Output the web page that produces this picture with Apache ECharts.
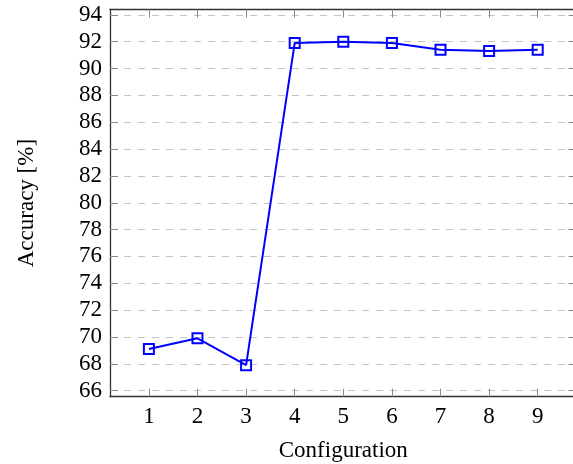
<!DOCTYPE html>
<html><head><meta charset="utf-8">
<script src="https://cdn.jsdelivr.net/npm/echarts@6/dist/echarts.min.js"></script>
<style>html,body{margin:0;padding:0;background:#fff}#c{width:573px;height:464px}</style>
</head><body><div id="c"></div>
<script>
const configurations = [1, 2, 3, 4, 5, 6, 7, 8, 9];
const accuracy = [69.1, 69.9, 67.9, 91.9, 92.0, 91.9, 91.4, 91.3, 91.4];
const yTicks = [66, 68, 70, 72, 74, 76, 78, 80, 82, 84, 86, 88, 90, 92, 94];

const font = 'Liberation Serif';
const chart = echarts.init(document.getElementById('c'), null, {renderer: 'canvas'});
const tickStyle = {show: true, inside: true, length: 8, lineStyle: {color: '#888', width: 1}};
chart.setOption({
  animation: false,
  grid: {left: 110, top: 9.5, right: -3.6, bottom: 67.3, containLabel: false, outerBoundsMode: 'none'},
  xAxis: [{
    type: 'value', min: 0.2, max: 9.8, position: 'bottom',
    name: 'Configuration', nameLocation: 'middle', nameGap: 43,
    nameTextStyle: {fontFamily: font, fontSize: 23, color: '#000'},
    axisLine: {show: true, onZero: false, lineStyle: {color: '#333', width: 1.3}},
    axisTick: Object.assign({customValues: configurations}, tickStyle),
    axisLabel: {customValues: configurations, fontFamily: font, fontSize: 23, color: '#000', margin: 9},
    splitLine: {show: false}
  }, {
    type: 'value', min: 0.2, max: 9.8, position: 'top',
    axisLine: {show: true, onZero: false, lineStyle: {color: '#333', width: 1.3}},
    axisTick: Object.assign({customValues: configurations}, tickStyle),
    axisLabel: {show: false, customValues: configurations},
    splitLine: {show: false}
  }],
  yAxis: [{
    type: 'value', min: 65.55, max: 94.4, position: 'left',
    name: 'Accuracy [%]', nameLocation: 'middle', nameGap: 72,
    nameTextStyle: {fontFamily: font, fontSize: 23, color: '#000'},
    axisLine: {show: true, onZero: false, lineStyle: {color: '#333', width: 1.3}},
    axisTick: Object.assign({customValues: yTicks}, tickStyle),
    axisLabel: {customValues: yTicks, fontFamily: font, fontSize: 23, color: '#000', margin: 8},
    splitLine: {show: true, lineStyle: {color: '#c4c4c4', type: [7, 7], width: 1}}
  }, {
    type: 'value', min: 65.55, max: 94.4, position: 'right',
    axisLine: {show: true, onZero: false, lineStyle: {color: '#333', width: 1.3}},
    axisTick: Object.assign({customValues: yTicks}, tickStyle),
    axisLabel: {show: false, customValues: yTicks},
    splitLine: {show: false}
  }],
  series: [{
    type: 'line',
    data: configurations.map((c, i) => [c, accuracy[i]]),
    xAxisIndex: 0, yAxisIndex: 0,
    lineStyle: {color: '#0000ff', width: 2},
    itemStyle: {color: 'rgba(0,0,0,0)', borderColor: '#0000ff', borderWidth: 2},
    symbol: 'rect', symbolSize: 10, showSymbol: true,
    z: 5
  }]
});
</script></body></html>
